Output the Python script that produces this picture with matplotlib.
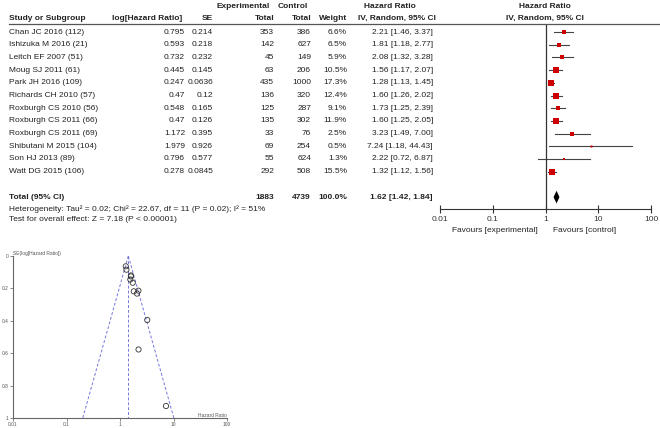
import numpy as np
import matplotlib
matplotlib.use('Agg')
import matplotlib.pyplot as plt

plt.rcParams['font.family'] = ['Liberation Sans', 'DejaVu Sans']

# study data
studies = ['Chan JC 2016 (112)', 'Ishizuka M 2016 (21)', 'Leitch EF 2007 (51)', 'Moug SJ 2011 (61)',
           'Park JH 2016 (109)', 'Richards CH 2010 (57)', 'Roxburgh CS 2010 (56)', 'Roxburgh CS 2011 (66)',
           'Roxburgh CS 2011 (69)', 'Shibutani M 2015 (104)', 'Son HJ 2013 (89)', 'Watt DG 2015 (106)']
log_hr = ['0.795', '0.593', '0.732', '0.445', '0.247', '0.47', '0.548', '0.47', '1.172', '1.979', '0.796', '0.278']
se = [0.214, 0.218, 0.232, 0.145, 0.0636, 0.12, 0.165, 0.126, 0.395, 0.926, 0.577, 0.0845]
se_txt = ['0.214', '0.218', '0.232', '0.145', '0.0636', '0.12', '0.165', '0.126', '0.395', '0.926', '0.577', '0.0845']
exp_total = [353, 142, 45, 63, 435, 136, 125, 135, 33, 69, 55, 292]
ctl_total = [386, 627, 149, 206, 1000, 320, 287, 302, 76, 254, 624, 508]
weight = [6.6, 6.5, 5.9, 10.5, 17.3, 12.4, 9.1, 11.9, 2.5, 0.5, 1.3, 15.5]
hr = [2.21, 1.81, 2.08, 1.56, 1.28, 1.60, 1.73, 1.60, 3.23, 7.24, 2.22, 1.32]
lo = [1.46, 1.18, 1.32, 1.17, 1.13, 1.26, 1.25, 1.25, 1.49, 1.18, 0.72, 1.12]
hi = [3.37, 2.77, 3.28, 2.07, 1.45, 2.02, 2.39, 2.05, 7.00, 44.43, 6.87, 1.56]
total_hr, total_lo, total_hi = 1.62, 1.42, 1.84
funnel_center = 1.43

W, H = 660, 428
fig = plt.figure(figsize=(6.6, 4.28), dpi=100)

def fx(px):
    return px / W

def fy(py):
    return 1 - py / H

fs = 6
row0, dy = 32, 12.7

def txt(x, y, s, ha='left', bold=False, size=fs):
    fig.text(fx(x), fy(y), s, ha=ha, va='center', fontsize=size,
             fontweight='bold' if bold else 'normal', color='#222222')

# headers
txt(270, 7, 'Experimental', ha='right', bold=True)
txt(308, 7, 'Control', ha='right', bold=True)
txt(390, 7, 'Hazard Ratio', ha='center', bold=True)
txt(545, 7, 'Hazard Ratio', ha='center', bold=True)
txt(9, 18, 'Study or Subgroup', bold=True)
txt(182, 18, 'log[Hazard Ratio]', ha='right', bold=True)
txt(213, 18, 'SE', ha='right', bold=True)
txt(274, 18, 'Total', ha='right', bold=True)
txt(311, 18, 'Total', ha='right', bold=True)
txt(347, 18, 'Weight', ha='right', bold=True)
txt(397, 18, 'IV, Random, 95% CI', ha='center', bold=True)
txt(545, 18, 'IV, Random, 95% CI', ha='center', bold=True)
fig.add_artist(plt.Line2D([fx(9), fx(660)], [fy(23.5), fy(23.5)], color='#555555', lw=0.9))

for i in range(len(studies)):
    y = row0 + dy * i
    txt(9, y, studies[i])
    txt(185, y, log_hr[i], ha='right')
    txt(213, y, se_txt[i], ha='right')
    txt(274, y, str(exp_total[i]), ha='right')
    txt(311, y, str(ctl_total[i]), ha='right')
    txt(347, y, f'{weight[i]:.1f}%', ha='right')
    txt(433, y, f'{hr[i]:.2f} [{lo[i]:.2f}, {hi[i]:.2f}]', ha='right')

yt = row0 + dy * 13
txt(9, yt, 'Total (95% CI)', bold=True)
txt(274, yt, str(sum(exp_total)), ha='right', bold=True)
txt(311, yt, str(sum(ctl_total)), ha='right', bold=True)
txt(347, yt, '100.0%', ha='right', bold=True)
txt(433, yt, f'{total_hr:.2f} [{total_lo:.2f}, {total_hi:.2f}]', ha='right', bold=True)
txt(9, 209, 'Heterogeneity: Tau² = 0.02; Chi² = 22.67, df = 11 (P = 0.02); I² = 51%')
txt(9, 220, 'Test for overall effect: Z = 7.18 (P < 0.00001)')

# forest plot
left, right, top, bot = 440, 651, 23.5, 209
ax = fig.add_axes([fx(left), fy(bot), fx(right - left), (bot - top) / H])
ax.set_xscale('log')
ax.set_xlim(0.01, 100)
ax.set_ylim((bot - row0) / dy, (top - row0) / dy)
for i in range(len(studies)):
    ax.plot([lo[i], hi[i]], [i, i], color='#444444', lw=0.8)
    ax.plot(hr[i], i, marker='s', color='#cc0000', ms=0.9 * np.sqrt(weight[i]) + 0.8, mew=0)
ax.fill([total_lo, total_hr, total_hi, total_hr], [13, 12.5, 13, 13.5], color='black', lw=0)
ax.axvline(1, color='#333333', lw=0.9)
for s in ['top', 'right', 'left']:
    ax.spines[s].set_visible(False)
ax.spines['bottom'].set_color('#333333')
ax.set_yticks([])
ax.set_xticks([0.01, 0.1, 1, 10, 100])
ax.set_xticklabels(['0.01', '0.1', '1', '10', '100'])
ax.xaxis.set_minor_locator(matplotlib.ticker.NullLocator())
ax.tick_params(axis='x', direction='inout', length=6, width=0.8, labelsize=fs, pad=2, colors='#333333')
ax.patch.set_alpha(0)
txt(538, 230, 'Favours [experimental]', ha='right')
txt(553, 230, 'Favours [control]')

# funnel plot
fl, fr, ft, fb = 13, 227, 256, 418
ax2 = fig.add_axes([fx(fl), fy(fb), fx(fr - fl), (fb - ft) / H])
ax2.set_xscale('log')
ax2.set_xlim(0.01, 100)
ax2.set_ylim(1, 0)
se_line = np.array([0, 1])
ax2.plot(funnel_center * np.exp(-1.96 * se_line), se_line, ls=(0, (3, 2)), color='#7777dd', lw=0.7)
ax2.plot(funnel_center * np.exp(1.96 * se_line), se_line, ls=(0, (3, 2)), color='#7777dd', lw=0.7)
ax2.plot([funnel_center, funnel_center], se_line, ls=(0, (3, 2)), color='#7777dd', lw=0.7)
ax2.scatter(hr, se, s=14, facecolors='none', edgecolors='#333333', linewidths=0.6, zorder=3)
for s in ['top', 'right']:
    ax2.spines[s].set_visible(False)
for s in ['left', 'bottom']:
    ax2.spines[s].set_color('#666666')
    ax2.spines[s].set_linewidth(0.8)
ax2.set_xticks([0.01, 0.1, 1, 10, 100])
ax2.set_xticklabels(['0.01', '0.1', '1', '10', '100'])
ax2.xaxis.set_minor_locator(matplotlib.ticker.NullLocator())
ax2.set_yticks([0, 0.2, 0.4, 0.6, 0.8, 1])
ax2.set_yticklabels(['0', '0.2', '0.4', '0.6', '0.8', '1'])
ax2.tick_params(labelsize=3.5, length=2, width=0.5, pad=1, colors='#555555')
ax2.patch.set_alpha(0)
ax2.text(0.0, 1.0, 'SE(log[Hazard Ratio])', transform=ax2.transAxes, fontsize=3.5,
         ha='left', va='bottom', color='#555555')
ax2.text(1.0, 0.0, 'Hazard Ratio', transform=ax2.transAxes, fontsize=3.5,
         ha='right', va='bottom', color='#555555')

fig.savefig('out.png', dpi=100)
